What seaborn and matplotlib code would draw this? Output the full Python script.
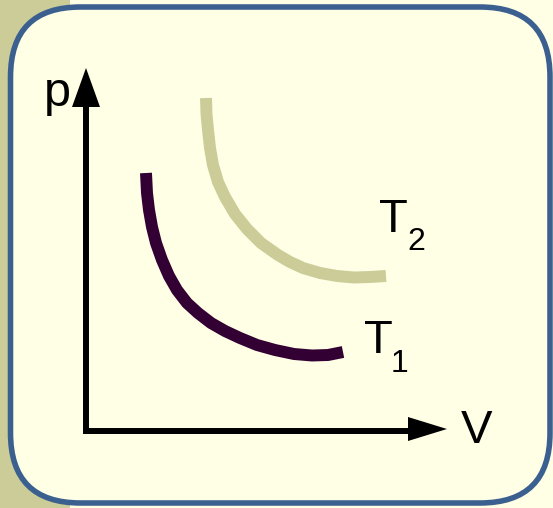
import matplotlib
matplotlib.use("Agg")
import matplotlib.pyplot as plt
import seaborn as sns
import pandas as pd
from matplotlib.patches import FancyBboxPatch, Rectangle, Polygon

# isotherms (V, p in arbitrary units, origin at the axes corner)
t1_v = [6.1, 6.2, 6.4, 6.7, 7.1, 7.7, 8.4, 9.2, 10.2, 11.3, 12.6, 14.0, 15.5,
        17.2, 19.0, 20.9, 22.7, 24.3, 25.8]
t1_p = [25.8, 23.8, 22.1, 20.4, 18.8, 17.1, 15.5, 14.1, 12.8, 11.8, 10.8, 10.0,
        9.3, 8.6, 8.1, 7.7, 7.55, 7.6, 7.9]
t2_v = [12.1, 12.15, 12.3, 12.5, 12.8, 13.3, 14.0, 15.0, 16.2, 17.6, 19.3, 20.5,
        21.8, 23.5, 25.2, 26.9, 28.5, 30.1]
t2_p = [33.3, 31.7, 30.1, 28.3, 26.6, 24.9, 23.4, 21.7, 20.2, 18.8, 17.6, 16.9,
        16.3, 15.8, 15.5, 15.35, 15.4, 15.5]

sns.set_theme(style="white")
plt.rcParams["font.family"] = ["Liberation Sans", "DejaVu Sans"]

pale = "#FFFFE5"
olive = "#CCCC99"
border = "#3B6090"
dark = "#330033"

W, H = 553, 508
fig = plt.figure(figsize=(W / 100, H / 100), dpi=100, facecolor=pale)

# background / frame in pixel coordinates
bg = fig.add_axes([0, 0, 1, 1])
bg.set_xlim(0, W)
bg.set_ylim(H, 0)
bg.set_axis_off()
bg.add_patch(Rectangle((0, 0), 70, H, facecolor=olive, edgecolor="none"))
bg.add_patch(FancyBboxPatch((10.5, 7), 539.5, 496,
                            boxstyle="round,pad=0,rounding_size=70",
                            facecolor=pale, edgecolor=border, linewidth=4))

# axis arrows
bg.plot([85.5, 85.5], [434, 104], color="black", lw=4.3, solid_capstyle="butt")
bg.plot([83, 410], [430.5, 430.5], color="black", lw=4.3, solid_capstyle="butt")
bg.add_patch(Polygon([(86, 68), (72, 107), (100, 107)], closed=True,
                     facecolor="black", edgecolor="none"))
bg.add_patch(Polygon([(447, 429), (408, 417), (408, 441)], closed=True,
                     facecolor="black", edgecolor="none"))

bg.text(44, 106, "p", fontsize=35, color="black", va="baseline", ha="left")
bg.text(461, 443, "V", fontsize=34, color="black", va="baseline", ha="left")
bg.text(364, 353, "T", fontsize=34, color="black", va="baseline", ha="left")
bg.text(391, 372, "1", fontsize=23, color="black", va="baseline", ha="left")
bg.text(379, 232, "T", fontsize=34, color="black", va="baseline", ha="left")
bg.text(407, 250, "2", fontsize=23, color="black", va="baseline", ha="left")

# data axes: origin at the arrow corner, 1 unit = 10 px
ax = fig.add_axes([85 / W, (H - 431) / H, (448 - 85) / W, (431 - 68) / H])
ax.set_xlim(0, 36.3)
ax.set_ylim(0, 36.3)
ax.patch.set_alpha(0)
ax.set_axis_off()

df1 = pd.DataFrame({"V": t1_v, "p": t1_p})
df2 = pd.DataFrame({"V": t2_v, "p": t2_p})
sns.lineplot(data=df2, x="V", y="p", sort=False, color=olive, linewidth=8.6,
             solid_capstyle="butt", solid_joinstyle="round", ax=ax)
sns.lineplot(data=df1, x="V", y="p", sort=False, color=dark, linewidth=8.6,
             solid_capstyle="butt", solid_joinstyle="round", ax=ax)

fig.savefig("out.png", dpi=100, facecolor=pale)
